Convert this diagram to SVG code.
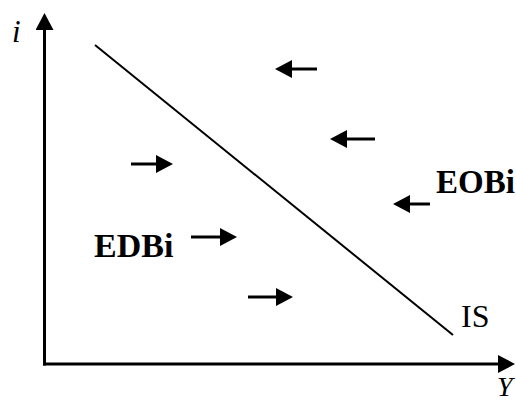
<svg xmlns="http://www.w3.org/2000/svg" width="516" height="401" viewBox="0 0 516 401">
<style>
.is{stroke:#000;stroke-width:2;fill:none}
.arr{stroke:#000;stroke-width:3;fill:none;marker-end:url(#ah)}
.ax{stroke:#000;stroke-width:3;fill:none;marker-end:url(#ah)}
.t{font-family:"Liberation Serif","Times New Roman",serif;fill:#000}
.b{font-weight:bold}
.it{font-style:italic}
</style>
<defs>
<marker id="ah" viewBox="0 0 17 18" markerWidth="17" markerHeight="18" refX="0" refY="9" orient="auto" markerUnits="userSpaceOnUse">
<path d="M0,0 L17,9 L0,18 z" fill="#000"/>
</marker>
</defs>
<rect width="516" height="401" fill="#fff"/>
<g id="axes">
<line class="ax" x1="44.5" y1="365.5" x2="44.5" y2="30"/>
<line class="ax" x1="43" y1="364" x2="498" y2="364"/>
<text class="t it" x="12" y="42" font-size="31">i</text>
<text class="t it" x="497" y="396" font-size="28">Y</text>
</g>
<g id="is-curve">
<line class="is" x1="95" y1="45" x2="453" y2="335"/>
<text class="t" x="461" y="327" font-size="32">IS</text>
</g>
<g id="connectors">
<line class="arr" x1="131" y1="164" x2="156" y2="164"/>
<line class="arr" x1="191" y1="237" x2="220" y2="237"/>
<line class="arr" x1="248" y1="297" x2="276" y2="297"/>
<line class="arr" x1="317" y1="69" x2="292" y2="69"/>
<line class="arr" x1="375" y1="139" x2="347" y2="139"/>
<line class="arr" x1="430" y1="204" x2="410" y2="204"/>
</g>
<g id="label-edbi">
<text class="t b" x="94" y="257" font-size="34">EDBi</text>
</g>
<g id="label-eobi">
<text class="t b" x="436" y="193" font-size="33">EOBi</text>
</g>
</svg>
